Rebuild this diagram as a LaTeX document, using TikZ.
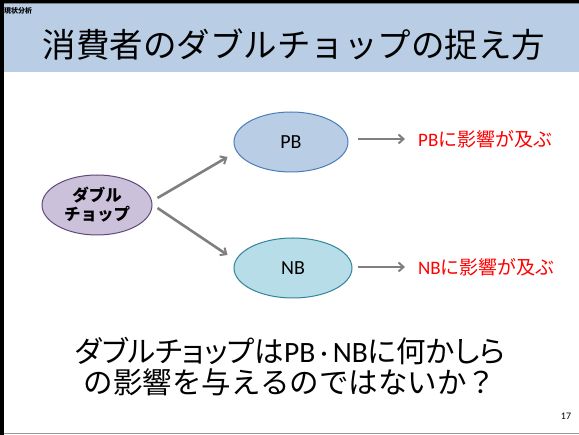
\documentclass[tikz,border=0pt]{standalone}
\usepackage{fontspec}
\setmainfont{Noto Sans CJK JP}
\newfontfamily\lat{Carlito}
\usetikzlibrary{arrows.meta,shapes.geometric,calc}
\definecolor{hdr}{HTML}{B9CDE5}
\definecolor{pbfill}{HTML}{B9CDE5}
\definecolor{pbdraw}{HTML}{4A7EBB}
\definecolor{nbfill}{HTML}{B7DEE8}
\definecolor{nbdraw}{HTML}{31849B}
\definecolor{dcfill}{HTML}{CCC1DA}
\definecolor{dcdraw}{HTML}{5F497A}
\definecolor{arr}{HTML}{7F7F7F}
\tikzset{
  oval/.style={ellipse, inner sep=0pt, line width=1pt},
  garrow/.style={draw=arr, line width=2.6pt, -{Straight Barb[length=5pt,width=9pt,line width=2pt]}},
  redlabel/.style={anchor=west, text=red, font=\fontsize{19}{21}\selectfont, inner sep=0pt}
}
\begin{document}
\begin{tikzpicture}[x=1pt,y=-1pt]
\useasboundingbox (0,0) rectangle (579,435);
\fill[white] (0,0) rectangle (579,435);
\fill[hdr] (4,4) rectangle (579,72);
\fill[black] (0,0) rectangle (4,435);
\fill[black] (0,0) rectangle (579,3);
\draw[gray, line width=1pt] (4,3.5) -- (579,3.5);
\draw[gray!80, line width=1.5pt] (4,433.5) -- (579,433.5);

\node[anchor=west, inner sep=0pt, font=\fontsize{7}{8}\selectfont\bfseries] (sec) at (4,11) {現状分析};
\node[inner sep=0pt, font=\fontsize{33.5}{36}\selectfont] (title) at (294,45) {消費者のダブルチョップの捉え方};

\node[oval, fill=dcfill, draw=dcdraw, minimum width=110pt, minimum height=60pt, align=center,
      font=\fontsize{16.5}{19}\selectfont\bfseries] (dc) at (97,205) {ダブル\\チョップ};
\node[oval, fill=pbfill, draw=pbdraw, minimum width=114pt, minimum height=60pt,
      font=\lat\fontsize{20}{22}\selectfont] (pb) at (291,142) {PB};
\node[oval, fill=nbfill, draw=nbdraw, minimum width=118pt, minimum height=60pt,
      font=\lat\fontsize{20}{22}\selectfont] (nb) at (293,268) {NB};

\draw[garrow] ($(dc.east)+(5,-7)$) -- ($(pb.west)+(-6,15)$);
\draw[garrow] ($(dc.east)+(5,3)$) -- ($(nb.west)+(-6,-13)$);

\node[redlabel] (pbl) at (418,139) {{\lat PB}に影響が及ぶ};
\node[redlabel] (nbl) at (418,267) {{\lat NB}に影響が及ぶ};
\draw[garrow] ($(pb.east)+(9,-3)$) -- ($(pbl.west)+(-13,0)$);
\draw[garrow] ($(nb.east)+(5,-1)$) -- ($(nbl.west)+(-13,0)$);

\node[inner sep=0pt, align=center, font=\fontsize{29.5}{31}\selectfont] (q) at (290,367)
  {{\addfontfeature{RawFeature=+palt}ダブルチョップは{\lat PB\,·\,NB}に何かしら}\\の影響を与えるのではないか？};

\node[inner sep=0pt, font=\lat\fontsize{10}{12}\selectfont] (pg) at (566,416) {17};
\end{tikzpicture}
\end{document}
